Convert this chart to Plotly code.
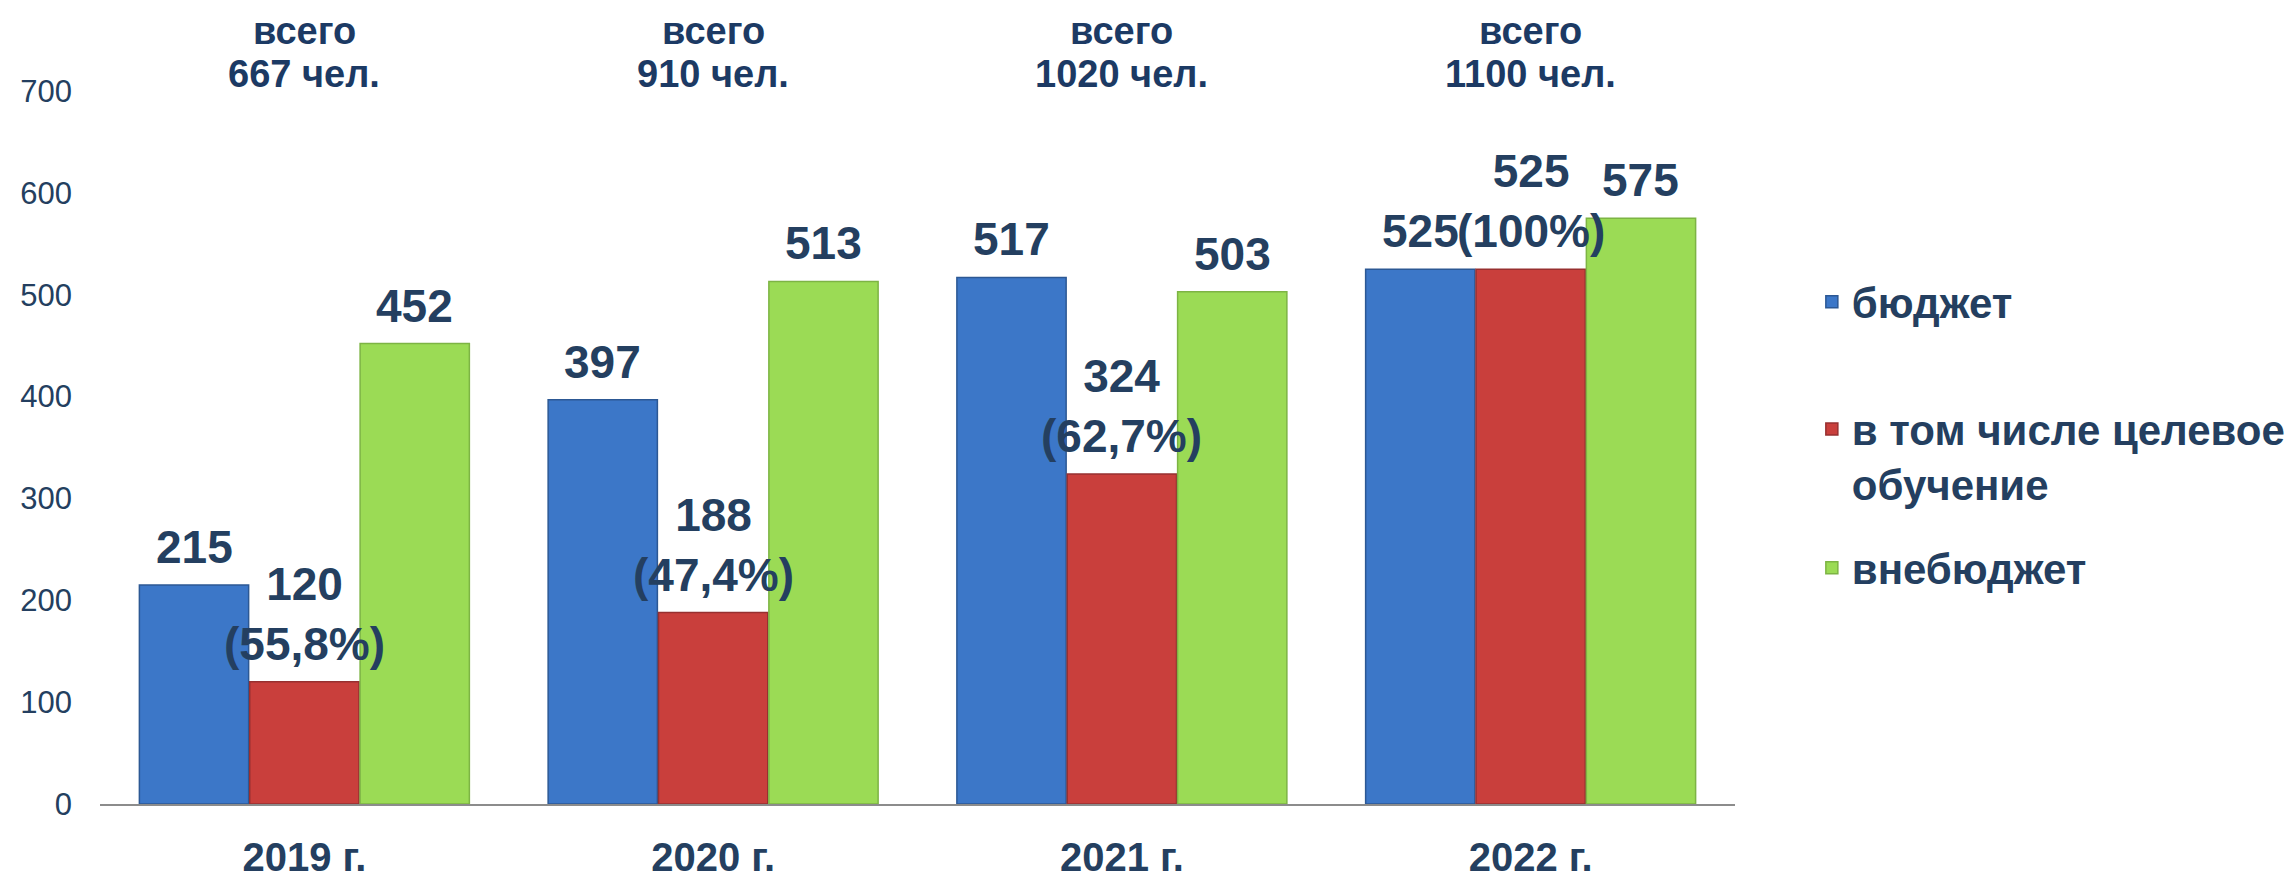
import plotly.graph_objects as go

years = ['2019 г.', '2020 г.', '2021 г.', '2022 г.']
budget = [215, 397, 517, 525]
target = [120, 188, 324, 525]
target_share = ['55,8%', '47,4%', '62,7%', '100%']
extra = [452, 513, 503, 575]
totals = [667, 910, 1020, 1100]

navy = '#243F60'
dark_blue = '#1C3A64'
font = 'Liberation Sans, Arial, sans-serif'
bargap = 0.19

series = [
    ('бюджет', budget, [str(v) for v in budget], '#3C77C8', '#2C5894', 'legend'),
    ('в том числе целевое<br>обучение', target,
     [f'{v}<br>({s})' for v, s in zip(target, target_share)], '#C93F3C', '#973030', 'legend2'),
    ('внебюджет', extra, [str(v) for v in extra], '#9BDB55', '#7DB444', 'legend3'),
]

fig = go.Figure()
slot = (1 - bargap) / len(series)
label_font = dict(size=46, color=navy, family=font, weight='bold')
for k, (name, vals, labels, color, edge, leg_id) in enumerate(series):
    fig.add_bar(x=years, y=vals, name=name, legend=leg_id,
                marker=dict(color=color, line=dict(color=edge, width=1.5)))
    # value labels as annotations so they sit above every bar
    offset = (k - (len(series) - 1) / 2) * slot
    for i, (v, lab) in enumerate(zip(vals, labels)):
        fig.add_annotation(x=i + offset, y=v, text=lab, showarrow=False,
                           yanchor='bottom', yshift=10, font=label_font)

# "всего N чел." above each year
top_font = dict(size=38, color=dark_blue, family=font, weight='bold')
for yr, tot in zip(years, totals):
    fig.add_annotation(x=yr, y=1.084, yref='paper', text='всего', showarrow=False,
                       yanchor='middle', font=top_font)
    fig.add_annotation(x=yr, y=1.024, yref='paper', text=f'{tot} чел.', showarrow=False,
                       yanchor='middle', font=top_font)

legend_font = dict(size=42, color=navy, family=font, weight='bold')
leg = dict(x=1.047, xanchor='left', yanchor='middle', font=legend_font, valign='top',
           bgcolor='rgba(0,0,0,0)', borderwidth=0)

# page body adds an 8px offset, margins shifted to compensate
fig.update_layout(
    width=2295, height=877,
    margin=dict(l=92, r=568, t=83, b=81),
    plot_bgcolor='white', paper_bgcolor='white',
    barmode='group', bargap=bargap, bargroupgap=0.01,
    showlegend=True,
    legend=dict(leg, y=0.704),
    legend2=dict(leg, y=0.487),
    legend3=dict(leg, y=0.331),
    xaxis=dict(showline=True, linecolor='#8C8C8C', linewidth=2, showgrid=False,
               ticks='', ticklabelstandoff=17, automargin=False,
               tickfont=dict(size=40, color=navy, family=font, weight='bold')),
    yaxis=dict(range=[0, 700], dtick=100, showgrid=False, showline=False, zeroline=False,
               ticks='', ticklabelstandoff=27, automargin=False,
               tickfont=dict(size=31, color=navy, family=font)),
)

fig.write_html("out.html")
